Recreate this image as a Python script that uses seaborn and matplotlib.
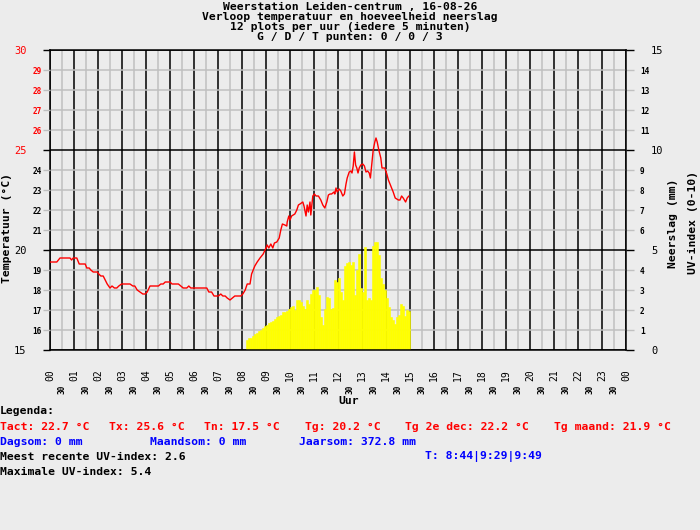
import matplotlib
matplotlib.use("Agg")
import matplotlib.pyplot as plt
import seaborn as sns
import pandas as pd

# ---------------- data ----------------
title_lines = [
    "Weerstation Leiden-centrum , 16-08-26",
    "Verloop temperatuur en hoeveelheid neerslag",
    "12 plots per uur (iedere 5 minuten)",
    "G / D / T punten: 0 / 0 / 3",
]

hour_labels = ["00", "01", "02", "03", "04", "05", "06", "07", "08", "09", "10", "11",
               "12", "13", "14", "15", "16", "17", "18", "19", "20", "21", "22", "23", "00"]
half_label = "30"

temp_major = [15, 20, 25, 30]
temp_minor = [16, 17, 18, 19, 21, 22, 23, 24, 26, 27, 28, 29]
rain_major = [0, 5, 10, 15]
rain_minor = [1, 2, 3, 4, 6, 7, 8, 9, 11, 12, 13, 14]

# temperature (minutes after midnight, °C)
temp_minutes = [0, 17, 25, 50, 54, 58, 67, 73, 88, 92, 98, 102, 108, 118, 122, 127, 133, 138,
                143, 150, 155, 161, 167, 172, 179, 200, 207, 212, 218, 225, 232, 238, 243, 250,
                271, 277, 283, 288, 300, 305, 321, 327, 333, 342, 347, 352, 392, 397, 404, 410,
                421, 427, 432, 438, 443, 450, 456, 462, 477, 482, 488, 493, 498, 500, 504, 508,
                512, 518, 525, 533, 540, 543, 547, 552, 557, 561, 567, 573, 577, 581, 587, 592,
                593, 597, 600, 604, 608, 612, 617, 621, 625, 632, 635, 640, 643, 646, 650, 652,
                657, 661, 665, 671, 677, 682, 687, 692, 696, 700, 704, 710, 712, 715, 718, 723,
                727, 732, 736, 740, 743, 748, 752, 755, 758, 761, 764, 767, 770, 773, 777, 782,
                786, 790, 794, 798, 801, 804, 808, 812, 815, 818, 822, 827, 830, 837, 842, 846,
                850, 854, 858, 863, 871, 875, 879, 883, 889, 893, 897]
temp_values = [19.4, 19.4, 19.6, 19.6, 19.5, 19.6, 19.6, 19.3, 19.3, 19.1, 19.1, 19.0, 18.9, 18.9,
               18.8, 18.7, 18.7, 18.5, 18.3, 18.1, 18.2, 18.1, 18.1, 18.2, 18.3, 18.3, 18.2, 18.2,
               18.0, 17.9, 17.8, 17.8, 17.9, 18.2, 18.2, 18.3, 18.3, 18.4, 18.4, 18.3, 18.3, 18.2,
               18.1, 18.1, 18.2, 18.1, 18.1, 17.9, 17.9, 17.7, 17.7, 17.8, 17.7, 17.7, 17.6, 17.5,
               17.6, 17.7, 17.7, 17.8, 18.0, 18.3, 18.3, 18.3, 18.8, 19.0, 19.2, 19.4, 19.6, 19.8,
               20.1, 20.25, 20.1, 20.3, 20.1, 20.35, 20.4, 20.6, 21.0, 21.3, 21.25, 21.2, 21.4, 21.7,
               21.5, 21.7, 21.75, 21.8, 22.0, 22.25, 22.3, 22.4, 22.2, 21.7, 22.25, 21.9, 22.4,
               21.75, 22.7, 22.8, 22.7, 22.7, 22.5, 22.25, 22.1, 22.4, 22.75, 22.8, 22.8, 22.9,
               22.8, 23.1, 22.9, 23.05, 22.95, 22.7, 22.8, 23.3, 23.6, 23.9, 23.95, 23.85, 24.2,
               24.9, 24.25, 24.1, 23.85, 24.1, 24.25, 24.3, 24.2, 23.9, 23.95, 23.85, 23.6, 24.2,
               25.0, 25.4, 25.6, 25.4, 25.0, 24.6, 24.1, 24.1, 23.8, 23.5, 23.3, 23.1, 22.9, 22.6,
               22.5, 22.5, 22.7, 22.6, 22.4, 22.6, 22.7]

# UV index, one bar per 5 minutes starting 08:10
uv_first_minute = 490
uv_step_minutes = 5
uv_values = [0.5, 0.58, 0.58, 0.7, 0.78, 0.87, 0.97, 1.0, 1.08, 1.2, 1.25, 1.33, 1.38, 1.47,
             1.55, 1.67, 1.7, 1.75, 1.88, 1.88, 1.97, 2.05, 2.17, 2.2, 2.0, 2.48, 2.48, 2.42,
             2.2, 2.05, 2.48, 2.3, 2.78, 3.0, 3.0, 3.17, 2.75, 1.67, 1.25, 2.05, 2.67, 2.62,
             2.05, 2.1, 3.5, 3.42, 3.58, 2.92, 2.5, 4.22, 4.33, 4.42, 4.25, 4.42, 2.75, 4.0,
             4.78, 3.08, 2.88, 5.17, 2.5, 2.62, 2.5, 5.22, 5.38, 5.38, 4.75, 3.62, 3.28, 3.0,
             2.58, 2.17, 1.67, 1.5, 1.28, 1.67, 1.75, 2.3, 2.2, 1.72, 2.0, 1.95]

legend_title = "Legenda:"
temp_stats = ["Tact: 22.7 °C", "Tx: 25.6 °C", "Tn: 17.5 °C", "Tg: 20.2 °C",
              "Tg 2e dec: 22.2 °C", "Tg maand: 21.9 °C"]
rain_stats = ["Dagsom: 0 mm", "Maandsom: 0 mm", "Jaarsom: 372.8 mm"]
uv_recent = "Meest recente UV-index: 2.6"
uv_times = "T: 8:44|9:29|9:49"
uv_max = "Maximale UV-index: 5.4"

# ---------------- style ----------------
sns.set_style("white")
plt.rcParams['font.family'] = ['DejaVu Sans Mono', 'DejaVu Sans']
plt.rcParams['text.color'] = 'black'
plt.rcParams['axes.labelcolor'] = 'black'
plt.rcParams['xtick.color'] = 'black'
plt.rcParams['ytick.color'] = 'black'

BG = "#ececec"
GRID = "#c0c0c0"
RED = "#ff0000"
BLUE = "#0000ff"
W, H = 700, 530

fig = plt.figure(figsize=(7.0, 5.3), dpi=100, facecolor=BG)

def fx(px):
    return px / W

def fy(py):
    return 1 - py / H

ax = fig.add_axes([fx(50), fy(350), (626 - 50) / W, 300 / H])
ax.set_facecolor(BG)

# UV bars (right axis scale 0-15)
uv_df = pd.DataFrame({
    "hour": [(uv_first_minute + i * uv_step_minutes) / 60 for i in range(len(uv_values))],
    "uv": uv_values,
})
ax.bar(uv_df["hour"], uv_df["uv"], width=uv_step_minutes / 60, align="edge",
       color="#ffff00", edgecolor="#ffff00", linewidth=0.4, zorder=2)

ax.set_xlim(0, 24)
ax.set_ylim(0, 15)

# temperature axis (left) on top
ax2 = ax.twinx()

# x ticks
ax.set_xticks(list(range(25)))
ax.set_xticklabels(hour_labels)
ax.set_xticks([h + 0.5 for h in range(24)], minor=True)
ax.set_xticklabels([half_label] * 24, minor=True)
ax.tick_params(axis="x", which="major", length=8, width=1, color="black", pad=6,
               labelsize=7, labelrotation=90, labelcolor="black")
ax.tick_params(axis="x", which="minor", length=8, width=1, color=GRID, pad=17,
               labelsize=5.6, labelrotation=90, labelcolor="black")
for t in ax.xaxis.get_minor_ticks():
    t.label1.set_fontweight("bold")

# right y ticks (rain / UV)
ax.set_yticks(rain_major)
ax.set_yticklabels([str(v) for v in rain_major])
ax.set_yticks(rain_minor, minor=True)
ax.set_yticklabels([str(v) for v in rain_minor], minor=True)
ax.yaxis.tick_right()
ax.tick_params(axis="y", which="major", length=6, width=1, color="black", pad=12,
               labelsize=7.5, labelcolor="black", right=True, left=False,
               labelright=True, labelleft=False)
ax.tick_params(axis="y", which="minor", length=6, width=1, color=GRID, pad=4,
               labelsize=5.6, labelcolor="black", right=True, left=False,
               labelright=True, labelleft=False)
for t in ax.yaxis.get_minor_ticks():
    t.label2.set_fontweight("bold")

ax.set_axisbelow(True)
ax.grid(which="major", axis="both", color="black", linewidth=1.1)
ax.grid(which="minor", axis="both", color=GRID, linewidth=1.1)
for sp in ax.spines.values():
    sp.set_color("black")
    sp.set_linewidth(1.1)

ax2.patch.set_visible(False)
ax2.grid(False)
ax2.set_ylim(15, 30)
ax2.set_yticks(temp_major)
ax2.set_yticklabels([str(v) for v in temp_major])
ax2.set_yticks(temp_minor, minor=True)
ax2.set_yticklabels([str(v) for v in temp_minor], minor=True)
ax2.yaxis.tick_left()
ax2.tick_params(axis="y", which="major", length=5, width=1, color="black", pad=12,
                labelsize=7.5, left=True, right=False, labelleft=True, labelright=False)
ax2.tick_params(axis="y", which="minor", length=5, width=1, color=GRID, pad=1,
                labelsize=5.6, left=True, right=False, labelleft=True, labelright=False)
for v, t in zip(temp_major, ax2.yaxis.get_major_ticks()):
    t.label1.set_color(RED if v > 20 else "black")
for v, t in zip(temp_minor, ax2.yaxis.get_minor_ticks()):
    t.label1.set_color(RED if v > 25 else "black")
    t.label1.set_fontweight("bold")
for sp in ax2.spines.values():
    sp.set_visible(False)

temp_df = pd.DataFrame({"hour": [m / 60 for m in temp_minutes], "temp": temp_values})
sns.lineplot(data=temp_df, x="hour", y="temp", ax=ax2, color=RED, linewidth=1.0,
             estimator=None, sort=False)
ax2.set_xlabel("")
ax2.set_ylabel("")
ax2.set_xlim(0, 24)
ax.set_xlabel("")
ax.set_ylabel("")

# ---------------- texts ----------------
for i, line in enumerate(title_lines):
    fig.text(fx(350), fy(7 + 10 * i), line, ha="center", va="center",
             fontsize=8.2, fontweight="bold", color="black")

fig.text(fx(7.5), fy(228), "Temperatuur (°C)", rotation=90, ha="center", va="center",
         fontsize=8.2, fontweight="bold", color="black")
fig.text(fx(672.5), fy(223), "Neerslag (mm)", rotation=90, ha="center", va="center",
         fontsize=8.2, fontweight="bold", color="black")
fig.text(fx(692.5), fy(222), "UV-index (0-10)", rotation=90, ha="center", va="center",
         fontsize=8.2, fontweight="bold", color="black")
fig.text(fx(349), fy(401), "Uur", ha="center", va="center", fontsize=8.2,
         fontweight="bold", color="black")

LFS = 8.2
fig.text(fx(0), fy(411), legend_title, ha="left", va="center", fontsize=LFS,
         fontweight="bold", color="black")
for txt, x in zip(temp_stats, [0, 109, 204, 305, 405, 554]):
    fig.text(fx(x), fy(427), txt, ha="left", va="center", fontsize=LFS,
             fontweight="bold", color=RED)
for txt, x in zip(rain_stats, [0, 150, 299]):
    fig.text(fx(x), fy(442), txt, ha="left", va="center", fontsize=LFS,
             fontweight="bold", color=BLUE)
fig.text(fx(0), fy(457), uv_recent, ha="left", va="center", fontsize=LFS,
         fontweight="bold", color="black")
fig.text(fx(425), fy(457), uv_times, ha="left", va="center", fontsize=LFS,
         fontweight="bold", color=BLUE)
fig.text(fx(0), fy(472), uv_max, ha="left", va="center", fontsize=LFS,
         fontweight="bold", color="black")

fig.savefig("out.png", dpi=100, facecolor=BG)
